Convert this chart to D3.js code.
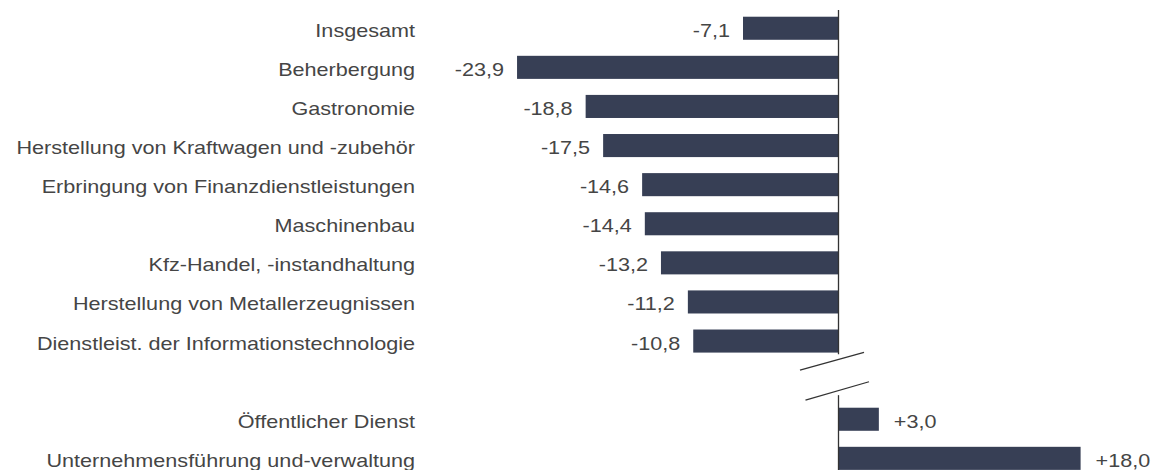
<!DOCTYPE html>
<html>
<head>
<meta charset="utf-8">
<script src="https://cdn.jsdelivr.net/npm/d3@7"></script>
<style>
  html, body { margin: 0; padding: 0; background: #fff; }
  svg { display: block; }
  text { font-family: "Liberation Sans", Arial, sans-serif; font-size: 18px; fill: #454545; }
</style>
</head>
<body>
<div id="chart"></div>
<script>
// categories top to bottom, "gap" marks the axis break slot
var categories = [
  "Insgesamt",
  "Beherbergung",
  "Gastronomie",
  "Herstellung von Kraftwagen und -zubehör",
  "Erbringung von Finanzdienstleistungen",
  "Maschinenbau",
  "Kfz-Handel, -instandhaltung",
  "Herstellung von Metallerzeugnissen",
  "Dienstleist. der Informationstechnologie",
  "gap",
  "Öffentlicher Dienst",
  "Unternehmensführung und-verwaltung"
];
var values = [-7.1, -23.9, -18.8, -17.5, -14.6, -14.4, -13.2, -11.2, -10.8, null, 3.0, 18.0];

var W = 1152, H = 470;
var barColor = "#373f55";
var stretch = 1.2; // text in the reference is wider than tall

var svg = d3.select("#chart").append("svg")
  .attr("width", W)
  .attr("height", H);

var x = d3.scaleLinear()
  .domain([-25, 20])
  .range([502.25, 1107.5]);

var y = d3.scaleBand()
  .domain(d3.range(categories.length))
  .range([8.7, 8.7 + 39.1 * categories.length])
  .paddingInner(0.41)
  .paddingOuter(0.205);

var de = d3.formatLocale({decimal: ",", thousands: ".", grouping: [3], currency: ["", " €"], minus: "-"});
var fmt = de.format(".1f"), fmtPlus = de.format("+.1f");

var rows = categories.map(function(c, i) { return {cat: c, val: values[i], i: i}; })
  .filter(function(d) { return d.val !== null; });

var bw = y.bandwidth();

// bars
svg.append("g").selectAll("rect")
  .data(rows)
  .enter().append("rect")
  .attr("x", function(d) { return x(Math.min(0, d.val)); })
  .attr("y", function(d) { return y(d.i); })
  .attr("width", function(d) { return Math.abs(x(d.val) - x(0)); })
  .attr("height", bw)
  .attr("fill", barColor);

// category labels
svg.append("g").selectAll("text")
  .data(rows)
  .enter().append("text")
  .attr("text-anchor", "end")
  .attr("transform", function(d) {
    return "translate(415," + (y(d.i) + bw / 2 + 8.5) + ") scale(" + stretch + ",1)";
  })
  .text(function(d) { return d.cat; });

// value labels
svg.append("g").selectAll("text")
  .data(rows)
  .enter().append("text")
  .attr("text-anchor", function(d) { return d.val < 0 ? "end" : "start"; })
  .attr("transform", function(d) {
    var tx = d.val < 0 ? x(d.val) - 13 : x(d.val) + 15;
    return "translate(" + tx + "," + (y(d.i) + bw / 2 + 8.5) + ") scale(" + stretch + ",1)";
  })
  .text(function(d) { return d.val < 0 ? fmt(d.val) : fmtPlus(d.val); });

// zero axis with break
var x0 = x(0);
var gapIdx = categories.indexOf("gap");
var c = y(gapIdx) + bw / 2;
var axis = svg.append("g").attr("stroke", "#333").attr("stroke-width", 1.3).attr("fill", "none");
axis.append("line").attr("x1", x0).attr("x2", x0).attr("y1", 10).attr("y2", c - 26);
axis.append("line").attr("x1", x0).attr("x2", x0).attr("y1", c + 15).attr("y2", H);
axis.append("line")
  .attr("x1", x0 - 38.5).attr("y1", c - 10)
  .attr("x2", x0 + 25.5).attr("y2", c - 27.8);
axis.append("line")
  .attr("x1", x0 - 33).attr("y1", c + 20)
  .attr("x2", x0 + 30.5).attr("y2", c + 1.6);
</script>
</body>
</html>
